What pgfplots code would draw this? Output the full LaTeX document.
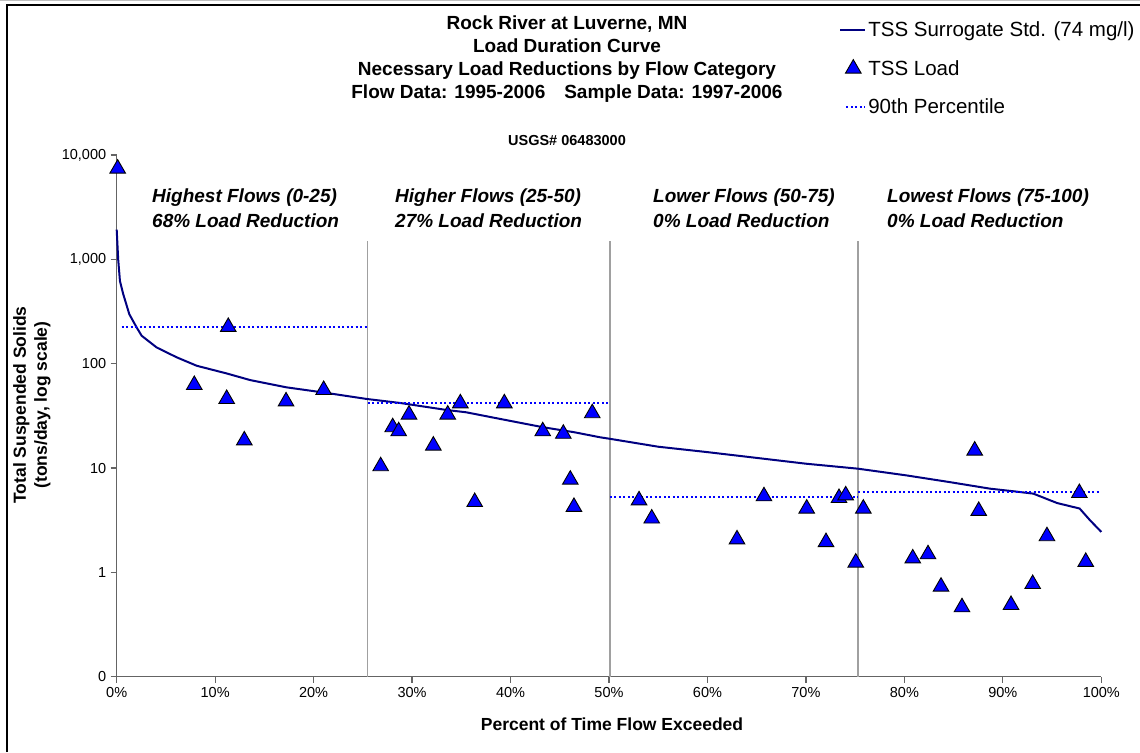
\documentclass[border=0pt]{standalone}
\usepackage{fontspec}
\setmainfont{Liberation Sans}
\usepackage{pgfplots}
\pgfplotsset{compat=1.18}
\definecolor{navy}{RGB}{0,0,128}
\definecolor{tblue}{RGB}{0,0,255}
\definecolor{sepgray}{RGB}{160,160,160}
\definecolor{axgray}{RGB}{100,100,100}

\begin{document}
\begin{tikzpicture}
\path[use as bounding box] (0pt,0pt) rectangle (1140pt,752pt);
\draw[gray!50, line width=1pt] (0pt,751.5pt) -- (1140pt,751.5pt);
\draw[black, line width=1.5pt] (7pt,0pt) -- (7pt,747pt) -- (1140pt,747pt);
\begin{axis}[
  at={(116.7pt,75.3pt)}, anchor=south west,
  scale only axis, width=984.6pt, height=521.7pt,
  xmin=0, xmax=100, ymode=log, ymin=0.1, ymax=10000,
  clip=false,
  axis x line*=bottom, axis y line*=left,
  axis line style={draw=axgray, line width=1.4pt, -},
  tick style={draw=axgray, line width=1.2pt},
  tick align=outside, major tick length=6pt,
  xtick={0,10,20,30,40,50,60,70,80,90,100},
  xticklabels={0\%,10\%,20\%,30\%,40\%,50\%,60\%,70\%,80\%,90\%,100\%},
  ytick={0.1,1,10,100,1000,10000},
  yticklabels={0,1,10,100,{1,000},{10,000}},
  yminorticks=false,
  /pgf/number format/assume math mode=true,
  ticklabel style={font=\fontsize{14.5}{16}\selectfont},
  xticklabel style={yshift=-1pt},
  yticklabel style={xshift=-1pt},
  legend style={at={(0.7337,1.259)}, anchor=north west, draw=none, fill=none,
    font=\fontsize{20.5}{24}\selectfont, row sep=18pt, inner sep=0pt,
    /tikz/every even column/.append style={column sep=4pt}},
  legend cell align=left,
]
% separators
\addplot[sepgray, line width=1.4pt, forget plot] coordinates {(25.5,0.1) (25.5,1500)};
\addplot[sepgray, line width=1.4pt, forget plot] coordinates {(50.1,0.1) (50.1,1500)};
\addplot[sepgray, line width=1.4pt, forget plot] coordinates {(75.3,0.1) (75.3,1500)};
% curve
\addplot[navy, line width=2pt, mark=none,
  legend image code/.code={\draw[navy, line width=2pt] (0pt,0pt) -- (25pt,0pt);}]
coordinates {
(0,1930) (0.15,1000) (0.33,620) (0.67,462) (1.28,298) (2.03,222) (2.54,185) (4.06,143)
(6.1,115) (8.13,95.5) (11.17,80.6) (13.54,69.7) (17.26,59.3) (21.33,52.4)
(25.39,45.9) (28.8,42) (33.5,36) (35.5,34.2) (38.9,29.6) (43.3,24.6) (46.5,22)
(49.1,19.7) (50.1,19.05) (55,16) (60,14.2) (65,12.5) (70,11.0) (75.3,9.85)
(80.2,8.5) (84.6,7.33) (88.7,6.34) (91,6.0) (93.1,5.68) (95.5,4.62) (97.8,4.09)
(98.85,3.16) (100,2.44)
};
\addlegendentry{TSS Surrogate Std. (74 mg/l)}
% load points
\addplot[only marks, mark=triangle*, mark size=9pt,
  mark options={fill=tblue, draw=black, line width=0.9pt},
  legend image code/.code={\draw[mark options={fill=tblue, draw=black, line width=0.9pt}] plot[mark=triangle*, mark size=9pt] coordinates {(13pt,0pt)};}]
coordinates {
(0.1,7400) (11.33,225) (7.88,62.5) (11.17,45.9) (12.96,18.4) (17.2,43.5)
(21.02,56) (26.81,10.4) (28.03,24.6) (28.64,22.5) (29.69,32.5) (32.16,16.4)
(33.62,32.5) (34.9,41.7) (36.36,4.72) (39.37,41.7) (43.27,22.5) (45.36,21.3)
(46.07,7.73) (46.44,4.24) (48.3,33.5) (53.05,4.9) (54.34,3.28) (63.0,2.07)
(65.74,5.36) (70.08,4.08) (72.04,1.95) (73.36,5.16) (74.04,5.47) (75.06,1.24)
(75.83,4.08) (80.85,1.36) (82.4,1.49) (83.72,0.729) (85.85,0.463) (87.14,14.7)
(87.55,3.88) (90.83,0.487) (93.03,0.773) (94.48,2.22) (97.77,5.76) (98.42,1.26)
};
\addlegendentry{TSS Load}
% percentiles
\addplot[tblue, line width=2pt, dash pattern=on 2pt off 2.5pt,
  legend image code/.code={\draw[tblue, line width=2pt, dash pattern=on 2pt off 2.5pt] (6pt,0pt) -- (25pt,0pt);}]
coordinates {(0.5,225) (25.5,225)};
\addlegendentry{90th Percentile}
\addplot[tblue, line width=2pt, dash pattern=on 2pt off 2.5pt, forget plot] coordinates {(25.5,42) (50.1,42)};
\addplot[tblue, line width=2pt, dash pattern=on 2pt off 2.5pt, forget plot] coordinates {(50.1,5.24) (75.3,5.24)};
\addplot[tblue, line width=2pt, dash pattern=on 2pt off 2.5pt, forget plot] coordinates {(75.3,5.89) (99.9,5.89)};
\end{axis}
% titles
\node[anchor=north, align=center, font=\bfseries\fontsize{19}{23}\selectfont] at (567pt,740pt) {Rock River at Luverne, MN\\Load Duration Curve\\Necessary Load Reductions by Flow Category\\Flow Data: 1995-2006\quad Sample Data: 1997-2006};
\node[font=\bfseries\fontsize{14.5}{16}\selectfont] at (567pt,611pt) {USGS\# 06483000};
% region labels
\begin{scope}[every node/.style={anchor=north west, align=left, inner sep=0pt, font=\bfseries\itshape\fontsize{19}{25}\selectfont}]
\node at (152pt,563pt) {Highest Flows (0-25)\\68\% Load Reduction};
\node at (395pt,563pt) {Higher Flows (25-50)\\27\% Load Reduction};
\node at (653pt,563pt) {Lower Flows (50-75)\\0\% Load Reduction};
\node at (887pt,563pt) {Lowest Flows (75-100)\\0\% Load Reduction};
\end{scope}
% axis labels
\node[font=\bfseries\fontsize{17.5}{21}\selectfont] at (612pt,28pt) {Percent of Time Flow Exceeded};
\node[rotate=90, align=center, font=\bfseries\fontsize{17.5}{21}\selectfont] at (32pt,347pt) {Total Suspended Solids\\(tons/day, log scale)};
\end{tikzpicture}
\end{document}
